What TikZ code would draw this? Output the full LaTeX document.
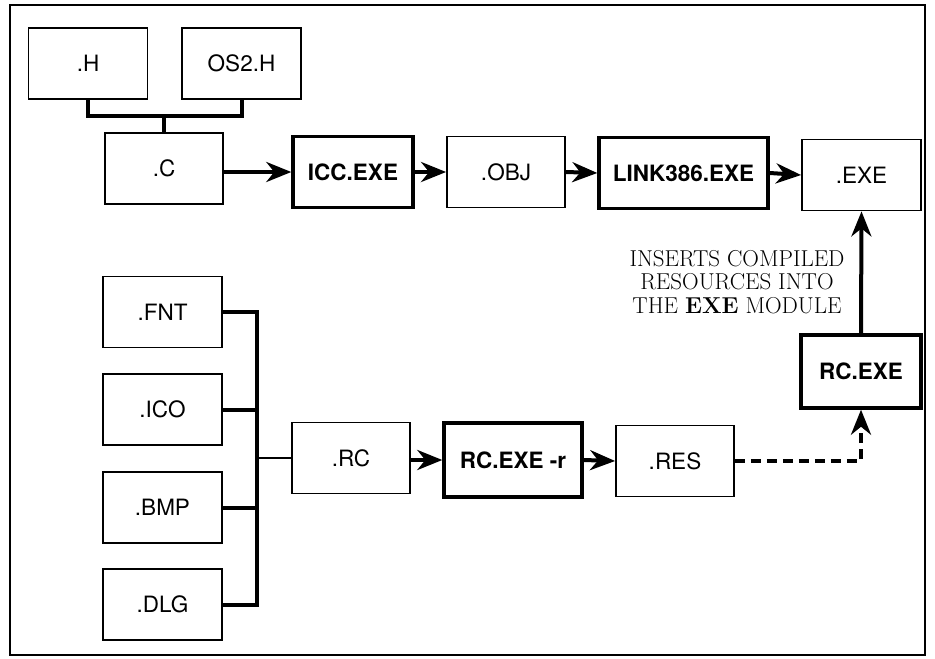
\documentclass[tikz,border=0pt]{standalone}
\usepackage{fontspec}
\setsansfont{TeX Gyre Heros}
\usepackage{tikz}
\usetikzlibrary{arrows.meta, positioning, calc}

\begin{document}
\begin{tikzpicture}[
  x=1pt, y=-1pt,
  filebox/.style = {draw, line width=1.8pt, minimum height=71pt, minimum width=119pt, inner sep=0pt,
                    font=\fontsize{22.5}{26}\selectfont\sffamily},
  toolbox/.style = {draw, line width=3.4pt, minimum height=71pt, minimum width=119pt, inner sep=0pt,
                    font=\fontsize{22.5}{26}\selectfont\sffamily\bfseries},
  arrow/.style = {line width=4pt, -{Stealth[length=25pt, width=20pt, inset=8pt]}},
  bus/.style = {line width=4pt},
  dashedarrow/.style = {arrow, dash pattern=on 10pt off 6pt}
]
  \useasboundingbox (0,0) rectangle (935,659);
  \draw[line width=1.5pt] (10,5) rectangle (925,655);

  % ======================================================
  % Source files and compile chain
  % ======================================================
  \node[filebox] (hfile) at (88,63.5) {.H};
  \node[filebox] (osfile) at (241.5,63.5) {OS2.H};
  \node[filebox, minimum width=118pt] (cfile) at (164,168.5) {.C};

  \node[toolbox, minimum width=120pt] (icc) at (353,172) {ICC.EXE};
  \node[filebox, minimum width=118pt] (objfile) at (506,172) {.OBJ};
  \node[toolbox, minimum width=169pt] (linker) at (683.5,173) {LINK386.EXE};
  \node[filebox] (exefile) at (861.5,175) {.EXE};

  % headers -> .C
  \coordinate (hjoin) at (164,116);
  \draw[bus] (hfile.south) |- (hjoin) -| (osfile.south);
  \draw[bus] (hjoin) -- (cfile.north);

  \draw[arrow] (cfile.east |- icc.west) -- (icc.west);
  \draw[arrow] (icc.east) -- (objfile.west);
  \draw[arrow] (objfile.east) -- (linker.west);
  \draw[arrow] (linker.east) -- (exefile.west);

  % ======================================================
  % Resource files
  % ======================================================
  \node[filebox] (fnt) at (162.5,312) {.FNT};
  \node[filebox] (ico) at (162.5,409.5) {.ICO};
  \node[filebox] (bmp) at (162.5,507.5) {.BMP};
  \node[filebox] (dlg) at (162.5,604.5) {.DLG};

  \node[filebox, minimum width=118pt] (rcfile) at (351,458) {.RC};
  \node[toolbox, minimum width=138pt, minimum height=74pt] (rccomp) at (513,460) {RC.EXE -r};
  \node[filebox, minimum width=118pt] (resfile) at (675,461) {.RES};
  \node[toolbox, minimum width=120pt, minimum height=73pt] (rcbind) at (861,371.5) {RC.EXE};

  % resource bus -> .RC
  \coordinate (bustop) at (257,312);
  \coordinate (busbot) at (257,604.5);
  \draw[bus] (fnt.east) -- (bustop) -- (busbot) -- (dlg.east);
  \draw[bus] (ico.east) -- (ico.east -| bustop);
  \draw[bus] (bmp.east) -- (bmp.east -| bustop);
  \draw[line width=2.5pt] (rcfile.west -| bustop) -- (rcfile.west);

  \draw[arrow] (rcfile.east |- rccomp.west) -- (rccomp.west);
  \draw[arrow] (rccomp.east) -- (resfile.west);
  \draw[dashedarrow] (resfile.east) -| (rcbind.south);
  \draw[arrow] (rcbind.north) -- (exefile.south);

  \node[align=center, font=\fontsize{23}{23.5}\selectfont\rmfamily] (note) at (737,282)
    {INSERTS COMPILED\\RESOURCES INTO\\THE \textbf{EXE} MODULE};

\end{tikzpicture}
\end{document}
